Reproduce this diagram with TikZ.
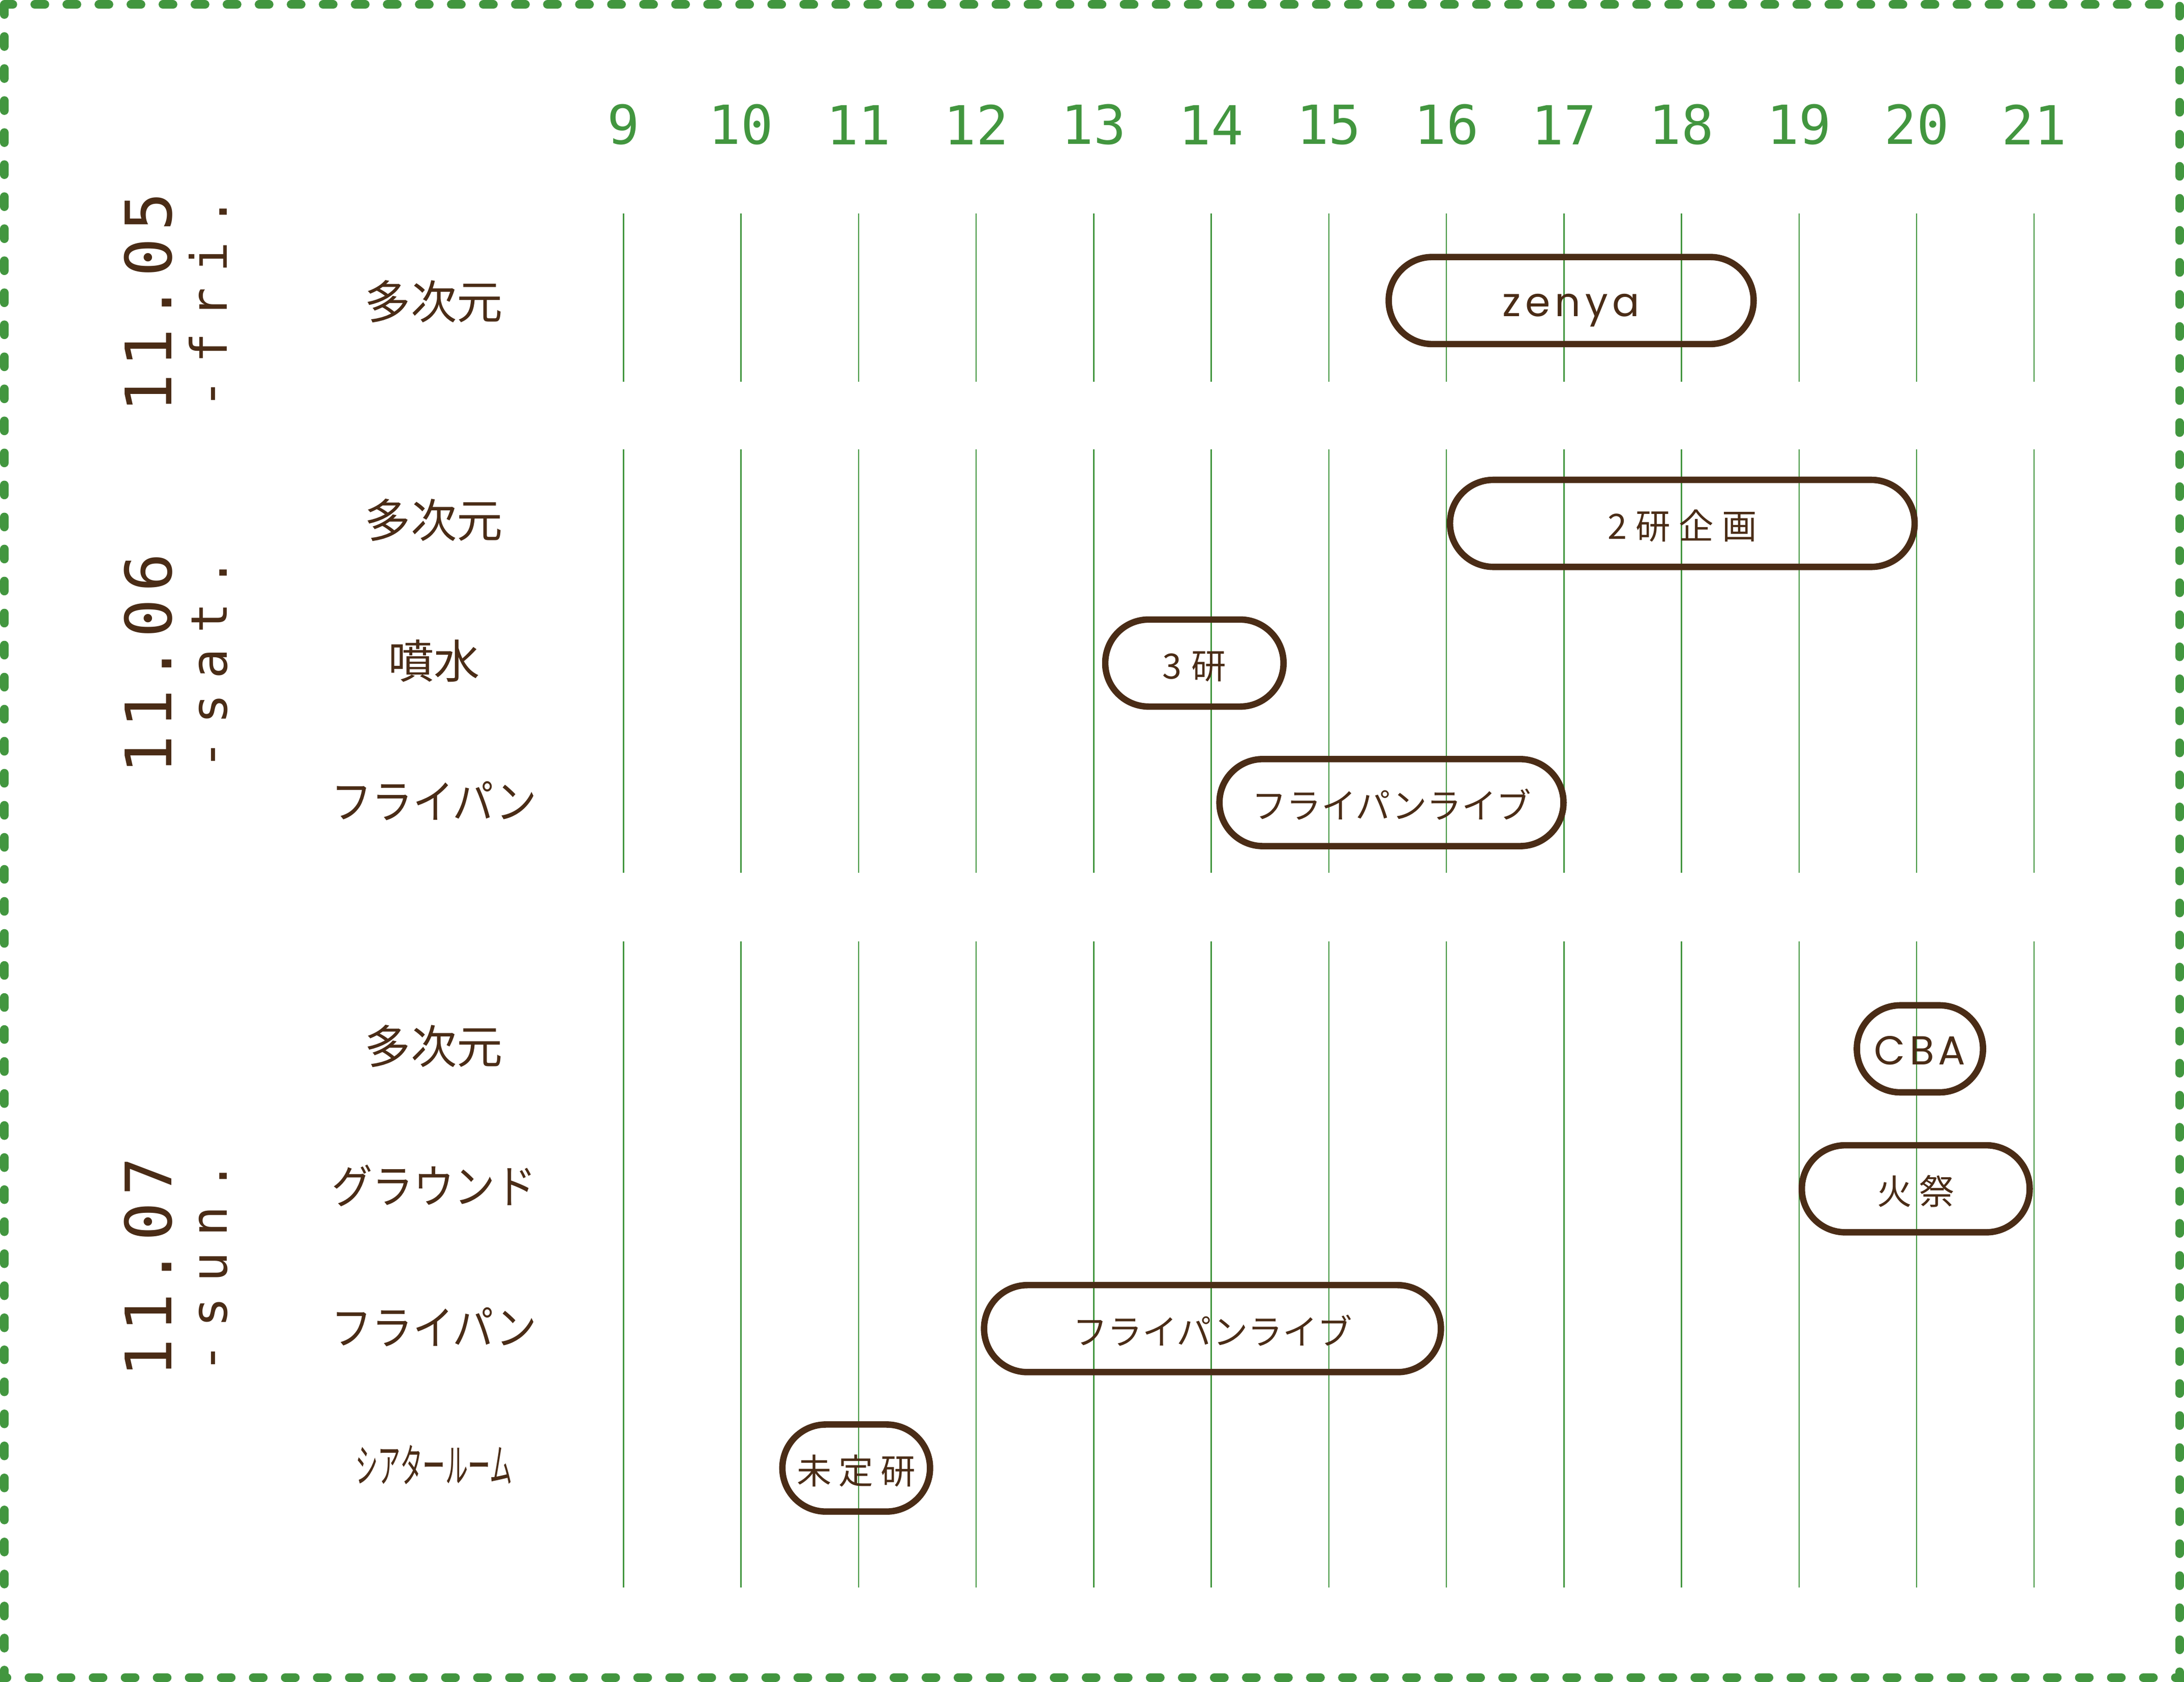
\documentclass[tikz,border=0pt]{standalone}
\usepackage{fontspec}
\usepackage{graphicx}
\setmainfont{DejaVu Sans}
\newfontfamily\jpfont{Noto Sans CJK JP}
\newfontfamily\monofont{DejaVu Sans Mono}
\newfontfamily\geofont{Poppins}
\definecolor{grn}{HTML}{42963F}
\definecolor{brn}{HTML}{4A2C16}
\makeatletter
\def\LS@k{0pt}
\def\LS@go#1{\ifx#1\relax\else\kern\LS@k\relax#1\expandafter\LS@go\fi}
\def\LS@first#1{#1\LS@go}
\newcommand\lsp[2]{\def\LS@k{#1}\LS@first#2\relax}
\makeatother
\tikzset{
  gridline/.style={grn, line width=0.45pt},
  hourlab/.style={text=grn, inner sep=0pt, font=\monofont\fontsize{19.3pt}{20pt}\selectfont},
  datelab/.style={text=brn, inner sep=0pt, rotate=90, anchor=base, font=\monofont\fontsize{23pt}{24pt}\selectfont},
  dowlab/.style={text=brn, inner sep=0pt, rotate=90, anchor=base, font=\monofont\fontsize{18pt}{19pt}\selectfont},
  rowlab/.style={text=brn, inner sep=0pt, font=\jpfont\fontsize{16.5pt}{17pt}\selectfont},
  ev/.style={draw=brn, line width=2.3pt, rounded corners=15.6pt, minimum height=31.25pt,
    inner sep=0pt, text=brn, text height=11.4pt, text depth=0pt,
    font=\jpfont\fontsize{12.5pt}{13pt}\selectfont},
  evlat/.style={ev, font=\geofont\fontsize{14.5pt}{15pt}\selectfont},
  frame/.style={grn, line width=3.1pt, dash pattern=on 3.6pt off 7.9pt, line cap=round},
}
\begin{document}
\begin{tikzpicture}[x=0.5pt,y=-0.5pt]
\useasboundingbox (0,0) rectangle (1568,1207.75);
\fill[white] (0,0) rectangle (1568,1207.75);
% frame
\draw[frame] (3.2,3.2) rectangle (1564.8,1204.6);
% grid and hours
\foreach \i in {0,...,12}{
  \pgfmathsetmacro\xx{447.6+84.4*\i}
  \pgfmathtruncatemacro\hh{\i+9}
  \node[hourlab] (h\hh) at (\xx,89.6) {\hh};
  \draw[gridline] (\xx,153.3) -- (\xx,274);
  \draw[gridline] (\xx,322.7) -- (\xx,626.7);
  \draw[gridline] (\xx,675.9) -- (\xx,1139.9);
}
% dates
\node[datelab] (d1) at (123.2,217.3) {\lsp{2.45pt}{11.05}};
\node[dowlab] (w1) at (163,217.3) {\lsp{5.5pt}{-fri.}};
\node[datelab] (d2) at (123.2,476.5) {\lsp{2.45pt}{11.06}};
\node[dowlab] (w2) at (163,476.5) {\lsp{5.5pt}{-sat.}};
\node[datelab] (d3) at (123.2,909.8) {\lsp{2.45pt}{11.07}};
\node[dowlab] (w3) at (163,909.8) {\lsp{5.5pt}{-sun.}};
% row labels
\node[rowlab] (r1a) at (311.5,216.5) {多次元};
\node[rowlab] (r2a) at (311.5,373.5) {多次元};
\node[rowlab] (r2b) at (311.5,474.5) {噴水};
\node[rowlab] (r2c) at (311.5,575) {\scalebox{0.89}[1]{フライパン}};
\node[rowlab] (r3a) at (311.5,751.3) {多次元};
\node[rowlab] (r3b) at (311.5,851.2) {\scalebox{0.89}[1]{グラウンド}};
\node[rowlab] (r3c) at (311.5,952.7) {\scalebox{0.89}[1]{フライパン}};
\node[rowlab] (r3d) at (311.5,1051.6) {\scalebox{0.49}[1]{シアタールーム}};
% events
\node[evlat, minimum width=131pt] (e1) at (1128,215.8) {\lsp{1.6pt}{zenya}};
\node[ev, minimum width=166.8pt] (e2) at (1207.8,375.8) {\lsp{3pt}{2研企画}};
\node[ev, minimum width=64pt] (e3) at (857.5,476.1) {\lsp{3.5pt}{3研}};
\node[ev, minimum width=123.5pt] (e4) at (999,576.3) {フライパンライブ};
\node[evlat, minimum width=45.3pt] (e5) at (1378.4,753.1) {\lsp{1.5pt}{CBA}};
\node[ev, minimum width=81.8pt] (e6) at (1375.4,853.6) {\lsp{2.7pt}{火祭}};
\node[ev, minimum width=164pt] (e7) at (870.5,954) {フライパンライブ};
\node[ev, minimum width=53pt] (e8) at (614.7,1054.1) {\lsp{2.6pt}{未定研}};
\end{tikzpicture}
\end{document}
